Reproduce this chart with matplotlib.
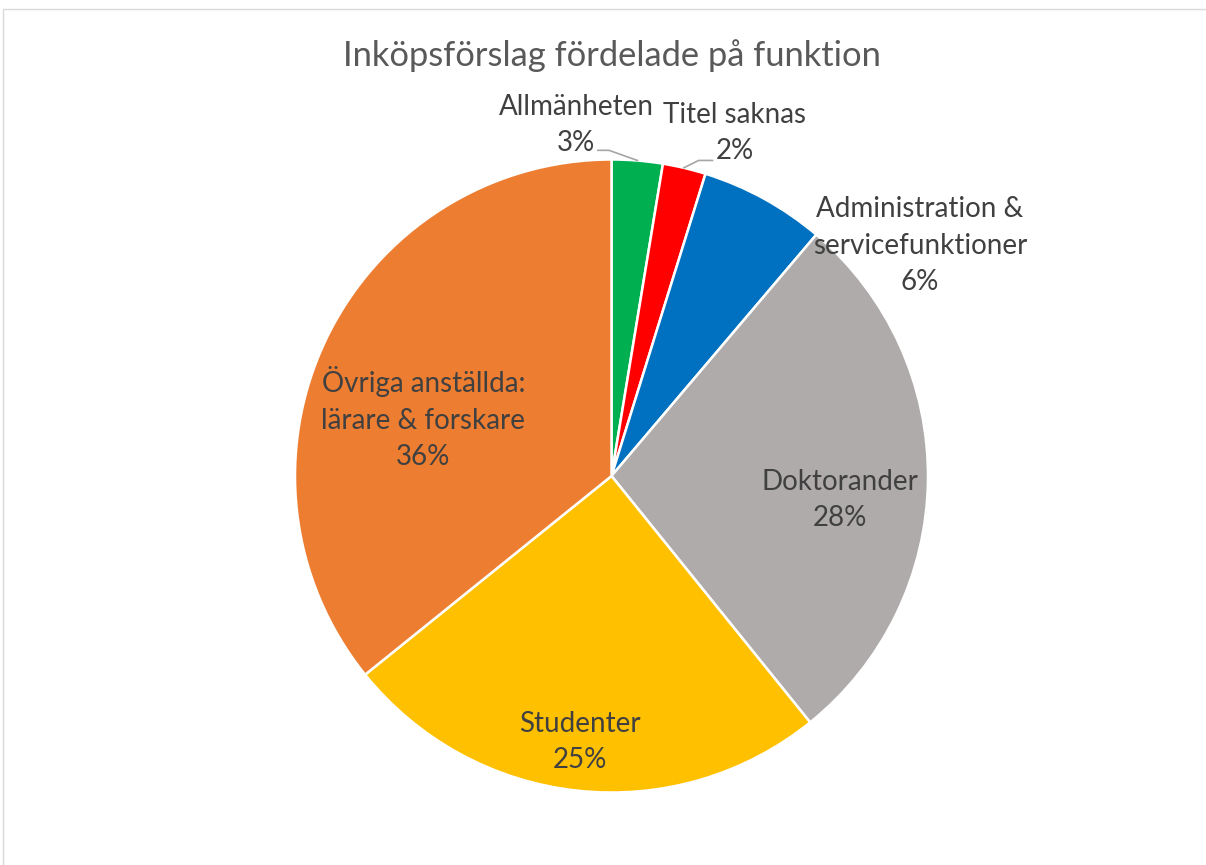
import matplotlib
matplotlib.use("Agg")
import matplotlib.pyplot as plt
import numpy as np
from matplotlib.patches import Rectangle

plt.rcParams['font.family'] = ['Lato', 'DejaVu Sans']

# data
categories = ['Allmänheten', 'Titel saknas', 'Administration &\nservicefunktioner',
              'Doktorander', 'Studenter', 'Övriga anställda:\nlärare & forskare']
shares = [2.6, 2.2, 6.4, 28.0, 25.0, 35.8]
colors = ['#00B050', '#FF0000', '#0070C0', '#AFABAB', '#FFC000', '#ED7D31']

# label centres in units of pie radius
label_xy = [(-0.112, 1.109), (0.390, 1.084), (0.975, 0.727),
            (0.722, -0.076), (-0.100, -0.840), (-0.594, 0.183)]

W, H = 1206, 865
fig = plt.figure(figsize=(W / 100, H / 100), dpi=100)

# chart border
fig.patches.append(Rectangle((3 / W, -0.1), 1.2, 1 - 9 / H + 0.1, transform=fig.transFigure,
                             fill=False, edgecolor='#D9D9D9', linewidth=1.0))

cx, cy, r = 611.5, 476, 316.5
ax = fig.add_axes([(cx - r) / W, (H - cy - r) / H, 2 * r / W, 2 * r / H])
ax.pie(shares, colors=colors, startangle=90, counterclock=False, radius=1,
       wedgeprops=dict(edgecolor='white', linewidth=1.8))
ax.set_xlim(-1, 1)
ax.set_ylim(-1, 1)
ax.set_aspect('equal')
ax.axis('off')

for name, val, (x, y) in zip(categories, shares, label_xy):
    ax.text(x, y, f"{name}\n{round(val):.0f}%", ha='center', va='center',
            fontsize=20, color='#404040', linespacing=1.5, clip_on=False)

# leader lines for the two small slices
ax.plot([-0.043, -0.008, 0.082], [1.029, 1.029, 0.997], color='#A6A6A6', lw=1.2, clip_on=False)
ax.plot([0.319, 0.275, 0.229], [0.997, 0.997, 0.974], color='#A6A6A6', lw=1.2, clip_on=False)

fig.text(612 / W, 1 - 56 / H, 'Inköpsförslag fördelade på funktion', ha='center', va='center',
         fontsize=24.8, color='#595959')

fig.savefig('out.png', dpi=100)
